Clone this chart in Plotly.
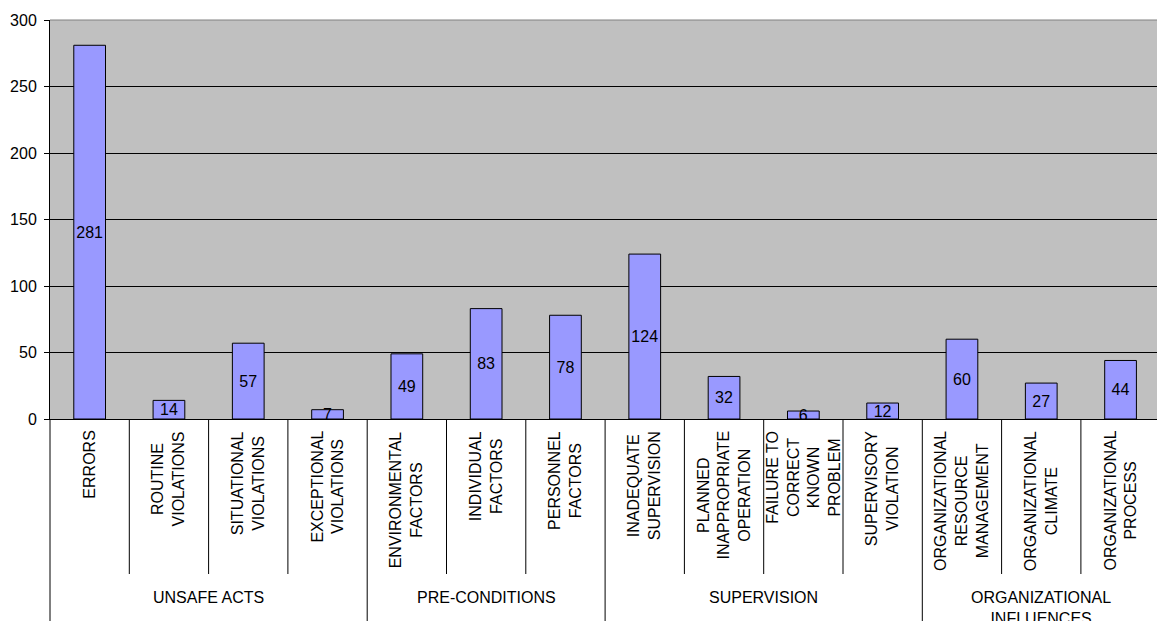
import plotly.graph_objects as go

categories = [
    "ERRORS", "ROUTINE<br>VIOLATIONS", "SITUATIONAL<br>VIOLATIONS", "EXCEPTIONAL<br>VIOLATIONS",
    "ENVIRONMENTAL<br>FACTORS", "INDIVIDUAL<br>FACTORS", "PERSONNEL<br>FACTORS",
    "INADEQUATE<br>SUPERVISION", "PLANNED<br>INAPPROPRIATE<br>OPERATION",
    "FAILURE TO<br>CORRECT<br>KNOWN<br>PROBLEM", "SUPERVISORY<br>VIOLATION",
    "ORGANIZATIONAL<br>RESOURCE<br>MANAGEMENT", "ORGANIZATIONAL<br>CLIMATE", "ORGANIZATIONAL<br>PROCESS",
]
values = [281, 14, 57, 7, 49, 83, 78, 124, 32, 6, 12, 60, 27, 44]
groups = ["UNSAFE ACTS", "PRE-CONDITIONS", "SUPERVISION", "ORGANIZATIONAL<br>INFLUENCES"]
group_sizes = [4, 3, 4, 3]
y_ticks = [0, 50, 100, 150, 200, 250, 300]

FONT = "Liberation Sans, Arial, sans-serif"
W, H = 1157, 621
ML, MT, MB = 50, 20, 202
plot_h = H - MT - MB
cat_px = 79.3
x_min = -0.5
x_max = x_min + (W - ML) / cat_px

def py(p):
    # pixel row -> paper y
    return (H - MB - p) / plot_h

xs = list(range(len(values)))

fig = go.Figure(go.Bar(
    x=xs, y=values,
    text=[str(v) for v in values],
    textposition="inside", insidetextanchor="middle", constraintext="none", textangle=0,
    insidetextfont=dict(family=FONT, size=16, color="black"),
    cliponaxis=True,
    marker=dict(color="#9999FF", line=dict(color="black", width=1)),
    showlegend=False,
))

shapes = []
annotations = []
bounds = []
start = 0
for s in group_sizes:
    bounds.append(start)
    start += s
group_starts = set(bounds)
for i in range(1, len(values)):
    shapes.append(dict(type="line", xref="x", yref="paper", x0=i - 0.5, x1=i - 0.5,
                       y0=0, y1=py(H) if i in group_starts else py(574),
                       line=dict(color="black", width=1)))
shapes.append(dict(type="line", xref="paper", yref="paper", x0=0, x1=0, y0=0, y1=py(H),
                   line=dict(color="black", width=1)))
shapes.append(dict(type="line", xref="paper", yref="paper", x0=0, x1=1, y0=1, y1=1,
                   line=dict(color="#808080", width=1)))

for i, c in enumerate(categories):
    annotations.append(dict(x=i, xref="x", y=py(429), yref="paper", text=c, textangle=-90,
                            showarrow=False, xanchor="center", yanchor="top", align="center",
                            font=dict(family=FONT, size=16, color="black")))
start = 0
for g, s in zip(groups, group_sizes):
    center = start + (s - 1) / 2
    annotations.append(dict(x=center, xref="x", y=py(587), yref="paper", text=g,
                            showarrow=False, xanchor="center", yanchor="top", align="center",
                            font=dict(family=FONT, size=16, color="black")))
    start += s

fig.update_layout(
    width=W, height=H,
    margin=dict(l=ML, r=0, t=MT, b=MB),
    paper_bgcolor="white", plot_bgcolor="#C0C0C0",
    bargap=0.6,
    shapes=shapes, annotations=annotations,
    xaxis=dict(range=[x_min, x_max], showticklabels=False, showgrid=False, zeroline=False,
               showline=True, linecolor="black", linewidth=1, ticks=""),
    yaxis=dict(range=[0, 300], tickvals=y_ticks, showgrid=True, gridcolor="black", gridwidth=1,
               zeroline=False, showline=True, linecolor="black", linewidth=1,
               ticks="outside", ticklen=5, tickcolor="black",
               tickfont=dict(family=FONT, size=16, color="black"), ticklabelstandoff=4),
)

fig.write_html("out.html")
